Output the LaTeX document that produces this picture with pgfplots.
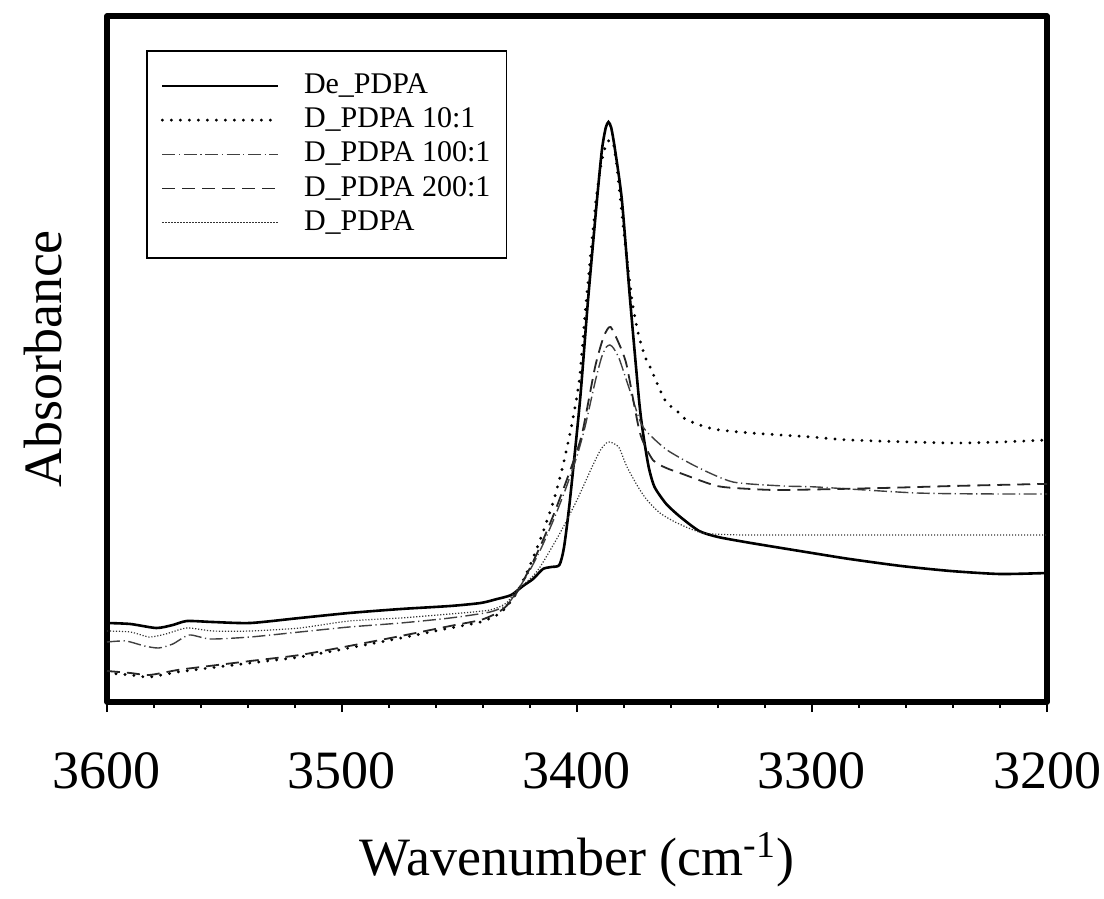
\documentclass[border=0pt]{standalone}
\usepackage{fontspec}
\setmainfont{Liberation Serif}
\usepackage{pgfplots}
\pgfplotsset{compat=1.18}
\begin{document}
\begin{tikzpicture}
\begin{axis}[
  width=470pt, height=343pt, scale only axis,
  x dir=reverse, xmin=3200, xmax=3600, ymin=0, ymax=686,
  xtick={3200,3300,3400,3500,3600},
  minor x tick num=4,
  ytick=\empty,
  tick align=outside, xtick pos=lower,
  major tick length=5pt, minor tick length=3pt,
  every tick/.style={black, line width=1pt},
  axis line style={line width=2.8pt, line join=round},
  /pgf/number format/assume math mode=true,
  /pgf/number format/1000 sep={},
  xticklabel style={font=\fontsize{27}{30}\selectfont, anchor=base, yshift=-38pt},
  xlabel={Wavenumber (cm\textsuperscript{-1})},
  ylabel={Absorbance},
  every axis x label/.style={at={(axis description cs:0.5,-0.2536)}, anchor=base, font=\fontsize{27}{32}\selectfont},
  every axis y label/.style={at={(axis description cs:-0.0479,0.5)}, anchor=base, rotate=90, font=\fontsize{27}{32}\selectfont},
  legend image code/.code={\draw[#1] (0pt,0pt) -- (58pt,0pt);},
  legend cell align=left,
  legend style={at={(axis description cs:0.0415,0.9504)}, anchor=north west,
    draw=black, line width=0.8pt, inner xsep=7pt, inner ysep=9pt,
    font=\fontsize{15}{18}\selectfont, column sep=11pt, row sep=0pt,
    nodes={font=\fontsize{15}{18}\selectfont, text height=10.5pt, text depth=3pt, inner ysep=1.8pt, inner xsep=1pt}},
  clip=true,
]
% De_PDPA solid
\addplot[black, line width=1.3pt, smooth, tension=0.4] coordinates {
(3600,79)(3590,78)(3579,74)(3572,77)(3566,81)(3555,80)(3539,79)(3518,84)(3497,89)(3475,93)(3454,96)(3441,99)(3434,103)(3428,107)(3423,116)(3418.7,123)(3414.5,133)(3411,135)(3407.5,137)(3405.5,155)(3403,202)(3398.7,302)(3395.3,402)(3391.5,502)(3389.4,552)(3387.8,574)(3386.6,580)(3385.4,574)(3383.8,552)(3380.9,502)(3377.4,402)(3373.6,302)(3371.9,269)(3369.5,235)(3367,215)(3362,198)(3356,185)(3348,171)(3340,165)(3326,159)(3300,149)(3284,143)(3262,136)(3241,131)(3220,128)(3200,129)
};
\addlegendentry{De\_PDPA}
% 10:1 big dots
\addplot[black, line width=1.6pt, line cap=round, dash pattern=on 0pt off 4.5pt, smooth, tension=0.4] coordinates {
(3600,29)(3590,27)(3582,25)(3570,30)(3560,33)(3539,39)(3518,45)(3497,54)(3475,64)(3454,74)(3441,80)(3434,87)(3430,95)(3426,108)(3422,126)(3418,148)(3414,173)(3410,201)(3406,236)(3402,280)(3399,322)(3396,402)(3391.9,502)(3389.4,542)(3387.5,558)(3386,562)(3384.5,558)(3383,535)(3380,469)(3376.6,402)(3374,369)(3371,345)(3368.9,335)(3362.6,302)(3357,290)(3353.2,282)(3342,273)(3326,269)(3300,265)(3284,262)(3241,259)(3220,260)(3200,262)
};
\addlegendentry{D\_PDPA 10:1}
% 100:1 dash-dot
\addplot[black!75, line width=0.7pt, dash pattern=on 6.5pt off 1.8pt on 0.6pt off 1.8pt, smooth, tension=0.4] coordinates {
(3600,60)(3592,61)(3584,56)(3578,54)(3572,58)(3565,67)(3556,63)(3539,65)(3518,70)(3497,75)(3475,79)(3454,84)(3437,90)(3430,97)(3426,109)(3420,132)(3415,155)(3410,182)(3405,212)(3400,246)(3396.6,275)(3392.3,320)(3389.5,345)(3387.5,355)(3386,357)(3384.5,354)(3382,343)(3378,315)(3373,280)(3369.8,269)(3361.7,252)(3348.9,235)(3333.6,220)(3312,216)(3297.9,215)(3255.3,209)(3220,208)(3200,208)
};
\addlegendentry{D\_PDPA 100:1}
% 200:1 dashed
\addplot[black!85, line width=0.9pt, dash pattern=on 6.5pt off 3.5pt, smooth, tension=0.4] coordinates {
(3600,31)(3590,29)(3582,27)(3570,32)(3560,35)(3539,41)(3518,47)(3497,56)(3475,66)(3454,76)(3441,82)(3434,89)(3430,96)(3426,108)(3420,134)(3415,159)(3410,187)(3405,218)(3400,251)(3397.4,273)(3392.3,335)(3389,363)(3387,373)(3385.7,375)(3384,368)(3381,352)(3378.7,335)(3373.2,269)(3367.7,242)(3362,234)(3356.2,229)(3340.4,216)(3326,213)(3312,212)(3270,214)(3240,216)(3203,218)(3200,218)
};
\addlegendentry{D\_PDPA 200:1}
% D_PDPA fine dotted
\addplot[black!80, line width=0.6pt, dash pattern=on 0.6pt off 0.9pt, smooth, tension=0.4] coordinates {
(3600,71)(3590,70)(3582,65)(3575,68)(3566,74)(3555,71)(3539,71)(3518,74)(3497,81)(3475,84)(3454,88)(3437,92)(3430,99)(3426.4,110)(3420,123)(3415.7,135)(3407.2,169)(3400,202)(3393.6,235)(3390,252)(3387.5,259)(3386,260)(3384,258)(3382,254)(3378.7,235)(3374,215)(3370.2,202)(3364.7,189)(3357.4,179)(3346.4,169)(3330,167)(3312,167)(3250,167)(3203,167)(3200,167)
};
\addlegendentry{D\_PDPA}
\end{axis}
\pgfresetboundingbox
\path ([shift={(-53.5pt,-98pt)}]current axis.south west) rectangle ([shift={(28.5pt,8pt)}]current axis.north east);
\end{tikzpicture}
\end{document}
